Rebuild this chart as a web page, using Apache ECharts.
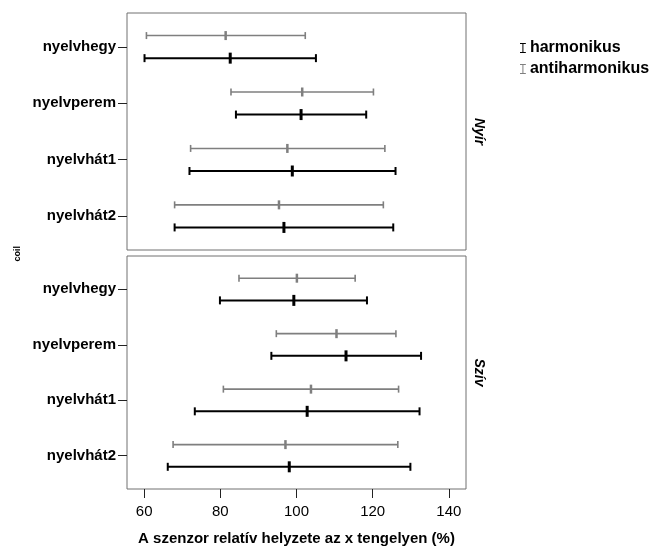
<!DOCTYPE html>
<html>
<head>
<meta charset="utf-8">
<script src="https://cdn.jsdelivr.net/npm/echarts@6/dist/echarts.min.js"></script>
<style>html,body{margin:0;padding:0;background:#fff;}#c{width:650px;height:547px;}</style>
</head>
<body>
<div id="c"></div>
<script>
var categories = ['nyelvhegy', 'nyelvperem', 'nyelvhát1', 'nyelvhát2'];
var panels = ['Nyír', 'Szív'];
var xTicks = [60, 80, 100, 120, 140];
// [low, mean, high] per category
var nyirHarm = [[60.1, 82.6, 105.1], [84.1, 101.2, 118.3], [71.9, 98.9, 126.0], [68.0, 96.7, 125.4]];
var nyirAnti = [[60.6, 81.4, 102.3], [82.8, 101.5, 120.2], [72.2, 97.6, 123.2], [68.0, 95.4, 122.8]];
var szivHarm = [[79.9, 99.3, 118.5], [93.4, 113.0, 132.7], [73.3, 102.8, 132.3], [66.2, 98.1, 129.9]];
var szivAnti = [[84.9, 100.1, 115.4], [94.7, 110.5, 126.1], [80.8, 103.8, 126.8], [67.6, 97.1, 126.6]];

var FONT = 'Liberation Sans, Arial, sans-serif';

function toData(arr) {
  return arr.map(function (d, i) { return [i + 1, d[0], d[1], d[2]]; });
}

function renderer(off, color, lw, capH, meanH, meanW) {
  return function (params, api) {
    var y = api.value(0) + off;
    var lo = api.coord([api.value(1), y]);
    var mid = api.coord([api.value(2), y]);
    var hi = api.coord([api.value(3), y]);
    var st = { stroke: color, lineWidth: lw };
    return {
      type: 'group',
      children: [
        { type: 'line', shape: { x1: lo[0], y1: lo[1], x2: hi[0], y2: hi[1] }, style: st },
        { type: 'line', shape: { x1: lo[0], y1: lo[1] - capH / 2, x2: lo[0], y2: lo[1] + capH / 2 }, style: st },
        { type: 'line', shape: { x1: hi[0], y1: hi[1] - capH / 2, x2: hi[0], y2: hi[1] + capH / 2 }, style: st },
        { type: 'line', shape: { x1: mid[0], y1: mid[1] - meanH / 2, x2: mid[0], y2: mid[1] + meanH / 2 }, style: { stroke: color, lineWidth: meanW } }
      ]
    };
  };
}

var BLACK = '#000000';
var GRAY = '#7f7f7f';
var I_ICON = 'path://M0,0L7,0L7,1.2L4.1,1.2L4.1,10.8L7,10.8L7,12L0,12L0,10.8L2.9,10.8L2.9,1.2L0,1.2Z';

function grid(top) {
  return { left: 127, top: top, width: 339, height: 237, show: true, borderColor: '#707070', borderWidth: 1, backgroundColor: '#fff' };
}
function xAxis(idx, showLabels) {
  return {
    type: 'value', gridIndex: idx, min: 55.5, max: 144.5,
    axisLine: { show: false },
    axisTick: { show: showLabels, customValues: xTicks, length: 9, lineStyle: { color: '#222' } },
    axisLabel: { show: showLabels, customValues: xTicks, color: '#000', fontFamily: FONT, fontSize: 15, margin: 15 },
    splitLine: { show: false },
    name: showLabels ? 'A szenzor relatív helyzete az x tengelyen (%)' : '',
    nameLocation: 'middle', nameGap: 42,
    nameTextStyle: { color: '#000', fontFamily: FONT, fontSize: 15, fontWeight: 'bold' }
  };
}
function yAxis(idx) {
  return {
    type: 'value', gridIndex: idx, min: 0.4, max: 4.6, inverse: true,
    axisLine: { show: false },
    axisTick: { show: true, customValues: [1, 2, 3, 4], length: 9, lineStyle: { color: '#222' } },
    axisLabel: {
      show: true, customValues: [1, 2, 3, 4], margin: 11,
      formatter: function (v) { return categories[Math.round(v) - 1] || ''; },
      color: '#000', fontFamily: FONT, fontSize: 15, fontWeight: 'bold'
    },
    splitLine: { show: false },
    name: panels[idx], nameLocation: 'middle', nameGap: -359, nameRotate: -90,
    nameTextStyle: { color: '#000', fontFamily: FONT, fontSize: 14, fontWeight: 'bold', fontStyle: 'italic' }
  };
}
function series(name, data, idx, off, color, lw, capH, meanH, meanW) {
  return {
    type: 'custom', name: name, xAxisIndex: idx, yAxisIndex: idx,
    data: toData(data), encode: { x: [1, 2, 3], y: 0 },
    itemStyle: { color: color },
    renderItem: renderer(off, color, lw, capH, meanH, meanW),
    silent: true
  };
}

var chart = echarts.init(document.getElementById('c'), null, { renderer: 'canvas' });
chart.setOption({
  animation: false,
  backgroundColor: '#fff',
  grid: [grid(13), grid(256)],
  xAxis: [xAxis(0, false), xAxis(1, true)],
  yAxis: [yAxis(0), yAxis(1)],
  legend: {
    data: [{ name: 'harmonikus', icon: I_ICON, itemStyle: { color: BLACK } },
           { name: 'antiharmonikus', icon: I_ICON, itemStyle: { color: GRAY } }],
    orient: 'vertical', left: 515, top: 35, itemWidth: 6, itemHeight: 10, itemGap: 5,
    textStyle: { color: '#000', fontFamily: FONT, fontSize: 16, fontWeight: 'bold', padding: [0, 0, 0, -1] },
    selectedMode: false
  },
  graphic: [{
    type: 'text', left: 13, top: 246, rotation: Math.PI / 2,
    style: { text: 'coil', fill: '#000', font: 'bold 9px ' + FONT }
  }],
  series: [
    series('harmonikus', nyirHarm, 0, 0.2, BLACK, 2, 8, 11, 3),
    series('antiharmonikus', nyirAnti, 0, -0.2, GRAY, 1.6, 7, 9, 2.5),
    series('harmonikus', szivHarm, 1, 0.2, BLACK, 2, 8, 11, 3),
    series('antiharmonikus', szivAnti, 1, -0.2, GRAY, 1.6, 7, 9, 2.5)
  ]
});
</script>
</body>
</html>
